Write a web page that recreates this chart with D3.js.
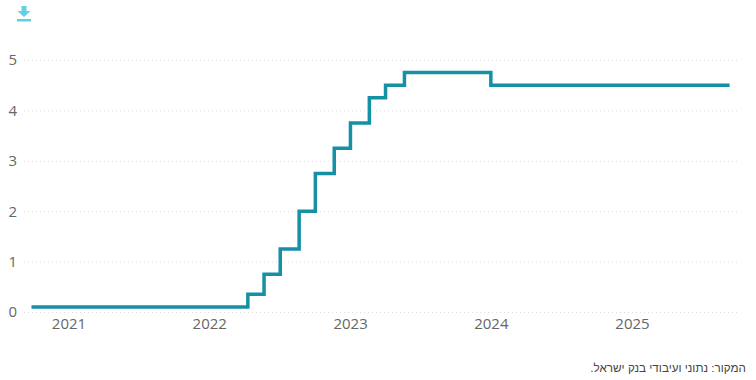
<!DOCTYPE html>
<html lang="he">
  <head>
    <meta charset="utf-8">
    <title>Bank of Israel rate</title>
    <script src="https://d3js.org/d3.v7.min.js"></script>
    <style>
      body {
        margin: 0;
        background: #fff;
      }

      svg {
        display: block;
      }

      .axis text {
        font-family: "Open Sans", sans-serif;
        font-size: 15px;
        fill: #666;
      }

      .axis path {
        display: none;
      }

      .grid line {
        stroke: #ddd;
        stroke-dasharray: 1 3;
      }

      #source {
        font-family: "Liberation Sans", sans-serif;
        font-size: 11.7px;
        fill: #444;
      }
    </style>
  </head>
  <body>
    <script>
      const rateDates = ['2020-09-27', '2022-04-11', '2022-05-23', '2022-07-04', '2022-08-22', '2022-10-03',
                         '2022-11-21', '2023-01-02', '2023-02-20', '2023-04-03', '2023-05-22', '2024-01-01', '2025-09-11'];
      const rateValues = [0.1, 0.35, 0.75, 1.25, 2, 2.75, 3.25, 3.75, 4.25, 4.5, 4.75, 4.5, 4.5];
      const yearTicks = [2021, 2022, 2023, 2024, 2025];
      const valueTicks = [0, 1, 2, 3, 4, 5];
      const sourceText = 'המקור: נתוני ועיבודי בנק ישראל.';

      const w = 756;
      const h = 380;

      const points = rateDates.map((d, i) => [new Date(d + 'T00:00:00Z'), rateValues[i]]);
      const yearDate = y => new Date(Date.UTC(y, 0, 1));

      const xScale = d3.scaleUtc()
                       .domain([yearDate(2021), yearDate(2025)])
                       .range([68.5, 632]);

      const yScale = d3.scaleLinear()
                       .domain([0, 5])
                       .range([312, 60]);

      const svg = d3.select('body')
                    .append('svg')
                    .attr('width', w)
                    .attr('height', h);

      // download icon, top left
      const icon = svg.append('g')
                      .attr('transform', 'translate(24, 14)')
                      .attr('fill', '#5fd0e6');
      icon.append('path').attr('d', 'M-2.5,-8 H2.5 V-3 H6.5 L0,3 L-6.5,-3 H-2.5 Z');
      icon.append('rect').attr('x', -7).attr('y', 5).attr('width', 14).attr('height', 2.5);

      const yAxis = d3.axisLeft(yScale)
                      .tickValues(valueTicks)
                      .tickFormat(d3.format('d'))
                      .tickSize(0)
                      .tickPadding(7);

      svg.append('g')
         .attr('class', 'axis')
         .attr('id', 'y-axis')
         .attr('transform', 'translate(24, 0)')
         .call(yAxis);

      svg.append('g')
         .attr('class', 'grid')
         .attr('transform', 'translate(24, 0)')
         .call(d3.axisLeft(yScale).tickValues(valueTicks).tickSize(-713).tickFormat(''))
         .select('.domain').remove();

      const xAxis = d3.axisBottom(xScale)
                      .tickValues(yearTicks.map(yearDate))
                      .tickFormat(d3.utcFormat('%Y'))
                      .tickSize(0)
                      .tickPadding(6);

      svg.append('g')
         .attr('class', 'axis')
         .attr('id', 'x-axis')
         .attr('transform', 'translate(0, 312)')
         .call(xAxis);

      const line = d3.line()
                     .x(d => xScale(d[0]))
                     .y(d => yScale(d[1]))
                     .curve(d3.curveStepAfter);

      svg.append('path')
         .datum(points)
         .attr('d', line)
         .attr('fill', 'none')
         .attr('stroke', '#1590a5')
         .attr('stroke-width', 3.5);

      svg.append('text')
         .attr('id', 'source')
         .attr('x', 746)
         .attr('y', 372)
         .attr('direction', 'rtl')
         .text(sourceText);
    </script>
  </body>
</html>
